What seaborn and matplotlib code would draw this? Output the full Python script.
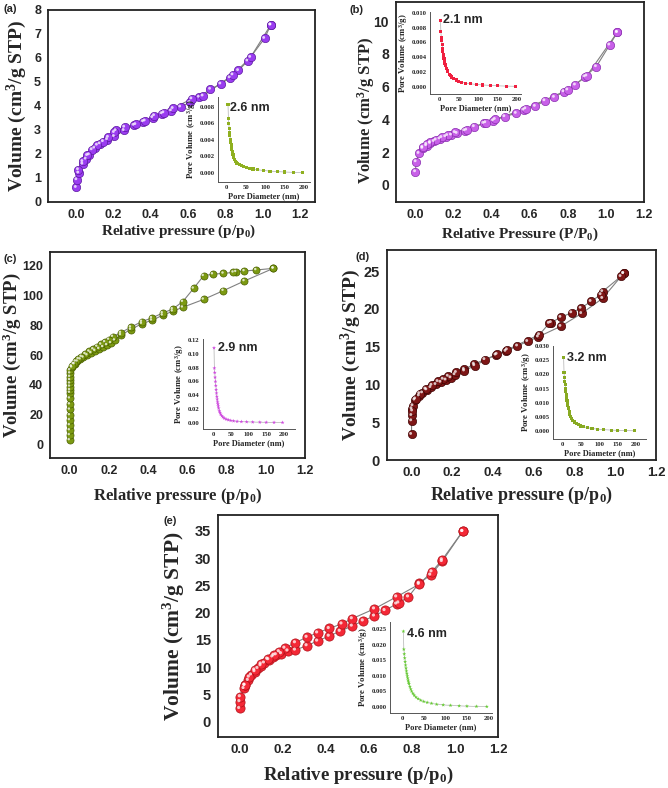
import numpy as np
import matplotlib
matplotlib.use("Agg")
import matplotlib.pyplot as plt
import seaborn as sns
from matplotlib.transforms import ScaledTranslation

sns.set_theme(style="white")
plt.rcParams['font.family'] = ['Liberation Sans', 'DejaVu Sans']
plt.rcParams['font.weight'] = 'bold'
plt.rcParams['mathtext.fontset'] = 'custom'
plt.rcParams['mathtext.rm'] = 'Liberation Serif:bold'
plt.rcParams['mathtext.bf'] = 'Liberation Serif:bold'
plt.rcParams['mathtext.it'] = 'Liberation Serif:bold'
plt.rcParams['mathtext.default'] = 'bf'

# ---------------- data ----------------
# (a)
a_ads_p = [0.001, 0.004, 0.014, 0.036, 0.054, 0.071, 0.10, 0.129, 0.168, 0.205, 0.257, 0.31, 0.36, 0.41,
           0.46, 0.51, 0.56, 0.61, 0.66, 0.72, 0.775, 0.825, 0.87, 0.92, 1.01, 1.043]
a_ads_v = [0.61, 0.93, 1.21, 1.58, 1.79, 1.97, 2.25, 2.43, 2.60, 2.73, 2.98, 3.20, 3.35, 3.52,
           3.68, 3.80, 3.96, 4.15, 4.37, 4.70, 4.92, 5.18, 5.48, 5.88, 6.82, 7.38]
a_des_p = [1.043, 0.935, 0.84, 0.68, 0.62, 0.52, 0.47, 0.42, 0.37, 0.32, 0.26, 0.214, 0.205, 0.173,
           0.146, 0.114, 0.086, 0.061, 0.036, 0.0125]
a_des_v = [7.38, 6.03, 5.30, 4.42, 4.30, 3.90, 3.72, 3.60, 3.38, 3.23, 3.12, 2.98, 2.90, 2.70,
           2.52, 2.37, 2.18, 1.94, 1.69, 1.35]
# (b)
b_ads_p = [0.002, 0.005, 0.02, 0.04, 0.06, 0.08, 0.10, 0.13, 0.16, 0.19, 0.22, 0.26, 0.31, 0.36,
           0.41, 0.47, 0.53, 0.57, 0.63, 0.68, 0.73, 0.78, 0.84, 0.89, 0.95, 1.02, 1.06]
b_ads_v = [0.81, 1.42, 1.93, 2.24, 2.40, 2.54, 2.66, 2.82, 2.95, 3.05, 3.15, 3.31, 3.56, 3.76,
           3.92, 4.17, 4.37, 4.57, 4.80, 5.14, 5.35, 5.69, 6.10, 6.60, 7.22, 8.54, 9.31]
b_des_p = [1.06, 0.90, 0.80, 0.58, 0.42, 0.37, 0.27, 0.21, 0.17, 0.14, 0.11, 0.08, 0.06, 0.04]
b_des_v = [9.31, 6.65, 5.80, 4.65, 4.00, 3.80, 3.35, 3.20, 3.02, 2.90, 2.75, 2.60, 2.48, 2.30]
# (c)
c_ads_p = [0.0001, 0.0002, 0.0003, 0.0004, 0.0005, 0.0006, 0.0007, 0.0008, 0.0009, 0.001, 0.0011,
           0.0012, 0.0013, 0.0014, 0.0016, 0.0018, 0.002, 0.012, 0.025, 0.04, 0.055, 0.07, 0.09, 0.11,
           0.13, 0.15, 0.17, 0.19, 0.21, 0.23, 0.261, 0.312, 0.368, 0.419, 0.474, 0.525, 0.577, 0.683,
           0.784, 0.891, 1.039]
c_ads_v = [2.9, 6.3, 9.6, 13.0, 16.4, 19.7, 23.5, 27.0, 31.0, 34.8, 36.6, 38.9, 41.0, 43.3, 45.5,
           47.8, 50.0, 51.8, 54.0, 55.8, 57.2, 58.5, 60.0, 61.5, 63.0, 64.3, 65.5, 66.8, 68.2, 70.0,
           73.6, 77.2, 81.2, 83.4, 86.8, 89.5, 92.2, 97.5, 103.4, 109.9, 118.4]
c_des_p = [1.039, 0.951, 0.891, 0.849, 0.835, 0.784, 0.73, 0.683, 0.632, 0.577, 0.525, 0.474, 0.419,
           0.368, 0.312, 0.261, 0.22, 0.20, 0.18, 0.16, 0.14, 0.12, 0.10, 0.08, 0.06, 0.045, 0.03,
           0.02, 0.01]
c_des_v = [118.4, 117.3, 116.6, 116.1, 115.7, 115.0, 114.5, 113.4, 104.9, 96.0, 91.0, 88.3, 85.0,
           82.6, 78.8, 75.1, 72.5, 70.5, 68.8, 67.2, 65.8, 64.0, 62.5, 60.8, 59.0, 57.5, 55.8,
           54.2, 52.5]
# (d)
d_ads_p = [0.0003, 0.0008, 0.0012, 0.002, 0.007, 0.016, 0.038, 0.054, 0.075, 0.095, 0.12, 0.144,
           0.169, 0.193, 0.213, 0.259, 0.308, 0.36, 0.414, 0.463, 0.52, 0.57, 0.622, 0.733, 0.835,
           0.938, 1.041]
d_ads_v = [3.4, 5.2, 5.9, 6.8, 7.2, 7.95, 8.5, 8.9, 9.3, 9.6, 10.0, 10.3, 10.6, 10.9, 11.3, 12.0,
           12.7, 13.3, 13.9, 14.4, 15.1, 15.7, 16.3, 17.7, 19.4, 21.4, 24.7]
d_des_p = [1.041, 1.028, 0.938, 0.93, 0.881, 0.832, 0.786, 0.733, 0.686, 0.676, 0.628, 0.47, 0.42,
           0.31, 0.26, 0.22, 0.18, 0.155, 0.13, 0.10, 0.07, 0.04, 0.02, 0.005]
d_des_v = [24.7, 24.3, 22.3, 21.9, 21.0, 20.1, 19.5, 18.9, 18.2, 18.1, 16.6, 14.6, 14.0, 12.5,
           11.8, 11.6, 11.1, 10.7, 10.4, 9.9, 9.4, 8.8, 8.1, 6.5]
# (e)
e_ads_p = [0.0, 0.001, 0.003, 0.02, 0.024, 0.04, 0.055, 0.071, 0.085, 0.099, 0.115, 0.135, 0.154,
           0.17, 0.194, 0.224, 0.259, 0.313, 0.362, 0.416, 0.467, 0.523, 0.574, 0.626, 0.675, 0.729,
           0.739, 0.784, 0.834, 0.887, 0.941, 1.036]
e_ads_v = [2.45, 3.7, 4.6, 6.1, 6.7, 7.6, 8.6, 9.2, 9.8, 10.3, 10.8, 11.4, 11.9, 12.3, 12.5, 13.0,
           13.15, 13.95, 14.8, 15.7, 16.6, 17.55, 18.5, 19.4, 20.4, 21.6, 21.8, 22.9, 25.4, 26.9,
           29.4, 34.9]
e_des_p = [1.036, 0.941, 0.893, 0.834, 0.729, 0.626, 0.523, 0.475, 0.416, 0.362, 0.313, 0.259,
           0.21, 0.184, 0.16, 0.13, 0.10, 0.07, 0.045, 0.025]
e_des_v = [34.9, 29.7, 27.5, 25.2, 22.9, 20.7, 18.9, 17.95, 17.1, 16.3, 15.5, 14.5, 13.5, 12.85,
           12.2, 11.5, 10.6, 9.5, 8.2, 6.7]

# pore size distributions (insets)
pore_d = [3, 4, 5, 6, 7, 8, 9, 10, 11, 12, 13, 14, 15, 16, 18, 20, 22, 25, 28, 32, 37, 43, 50, 58,
          68, 80, 95, 112, 132, 150, 172, 196]
a_psd = [0.0083, 0.0066, 0.0060, 0.0054, 0.0049, 0.0045, 0.0041, 0.0037, 0.0034, 0.0031, 0.0028,
         0.0026, 0.0024, 0.0022, 0.0019, 0.0016, 0.0014, 0.0012, 0.0011, 0.0010, 0.0009, 0.0008,
         0.0007, 0.00058, 0.00048, 0.00038, 0.0003, 0.00022, 0.00016, 0.00011, 0.00007, 0.00004]
b_psd = [0.0089, 0.0074, 0.0067, 0.0062, 0.0057, 0.0052, 0.0048, 0.0044, 0.0041, 0.0038, 0.0035,
         0.0032, 0.0030, 0.0028, 0.0025, 0.0022, 0.0020, 0.0017, 0.0015, 0.0013, 0.0011, 0.0009,
         0.00075, 0.0006, 0.00048, 0.00038, 0.0003, 0.00022, 0.00016, 0.00011, 0.00007, 0.00004]
c_psd = [0.109, 0.0795, 0.073, 0.066, 0.060, 0.054, 0.048, 0.043, 0.038, 0.034, 0.030, 0.027,
         0.024, 0.021, 0.017, 0.0146, 0.012, 0.0098, 0.008, 0.0063, 0.005, 0.004, 0.0031, 0.0024,
         0.0018, 0.0014, 0.0011, 0.0008, 0.0006, 0.0004, 0.00025, 0.00015]
d_psd = [0.0258, 0.0206, 0.0190, 0.0176, 0.0163, 0.0150, 0.0138, 0.0127, 0.0117, 0.0108, 0.0099,
         0.0091, 0.0084, 0.0078, 0.0068, 0.0059, 0.0052, 0.0044, 0.0038, 0.0032, 0.0027, 0.0022,
         0.0018, 0.0015, 0.0012, 0.0009, 0.0007, 0.0005, 0.00035, 0.00025, 0.00015, 0.0001]
e_psd = [0.0243, 0.0185, 0.0170, 0.0157, 0.0145, 0.0134, 0.0124, 0.0115, 0.0107, 0.0099, 0.0092,
         0.0085, 0.0079, 0.0074, 0.0065, 0.0057, 0.0050, 0.0043, 0.0037, 0.0031, 0.0026, 0.0021,
         0.0017, 0.0014, 0.0011, 0.0008, 0.0006, 0.00045, 0.0003, 0.0002, 0.00012, 0.00006]

labels = ["(a)", "(b)", "(c)", "(d)", "(e)"]
peak_labels = ["2.6 nm", "2.1 nm", "2.9 nm", "3.2 nm", "4.6 nm"]
x_tick_vals = [0.0, 0.2, 0.4, 0.6, 0.8, 1.0, 1.2]
x_tick_labels = ["0.0", "0.2", "0.4", "0.6", "0.8", "1.0", "1.2"]
inset_x_ticks = [0, 50, 100, 150, 200]

# ---------------- layout ----------------
W, H = 668, 788
fig = plt.figure(figsize=(W / 100, H / 100), dpi=100)


def rect(l, t, r, b):
    return [l / W, 1 - b / H, (r - l) / W, (b - t) / H]


panels = [
    dict(box=(48, 10, 315, 202), xlim=(-0.15, 1.28), ylim=(0, 8), yt=np.arange(0, 9, 1),
         ads=(a_ads_p, a_ads_v), des=(a_des_p, a_des_v), col='#9a3cf0', edge='#5d1aa0', ms=36,
         xlab=r'Relative pressure (p/p$_{0}$)', ylab='Volume (cm$^{3}$/g STP)',
         xfs=11, yfs=14, ylc=(-0.07, 0.5), xlc=(0.49, -0.109), lab=(3, 4), xts=9, yts=9,
         ins=(218, 97, 310, 182), ixlim=(-23, 216), iylim=(-0.0011, 0.0092),
         iyt=np.arange(0, 0.0081, 0.002), ifmt='%.3f', psd=a_psd, icol='#8fb020', imk='s',
         ann=(0.13, 0.87)),
    dict(box=(396, 2, 644, 202), xlim=(-0.1, 1.2), ylim=(-1.04, 11.16), yt=np.arange(0, 11, 2),
         ads=(b_ads_p, b_ads_v), des=(b_des_p, b_des_v), col='#c860e8', edge='#8a2fb0', ms=36,
         xlab=r'Relative Pressure (P/P$_{0}$)', ylab='Volume (cm$^{3}$/g STP)',
         xfs=11, yfs=12, ylc=(-0.075, 0.46), xlc=(0.5, -0.12), lab=(350, 5), xts=9, yts=10,
         ins=(430, 12, 521, 94), ixlim=(-24, 210), iylim=(-0.001, 0.0101),
         iyt=np.arange(0, 0.0101, 0.002), ifmt='%.3f', psd=b_psd, icol='#f02040', imk='s',
         ann=(0.14, 0.9)),
    dict(box=(50, 252, 305, 458), xlim=(-0.1, 1.2), ylim=(-9.2, 129.4), yt=np.arange(0, 121, 20),
         ads=(c_ads_p, c_ads_v), des=(c_des_p, c_des_v), col='#7c9a12', edge='#4a6000', ms=26,
         xlab=r'Relative pressure (p/p$_{0}$)', ylab='Volume (cm$^{3}$/g STP)',
         xfs=12, yfs=13.5, ylc=(-0.104, 0.5), xlc=(0.5, -0.136), lab=(3, 254), xts=9, yts=9,
         ins=(203, 339, 295, 429), ixlim=(-28, 231), iylim=(-0.0093, 0.122),
         iyt=np.arange(0, 0.121, 0.02), ifmt='%.2f', psd=c_psd, icol='#d048e0', imk='*',
         ann=(0.16, 0.9)),
    dict(box=(387, 250, 656, 460), xlim=(-0.12, 1.2), ylim=(0, 27.8), yt=np.arange(0, 26, 5),
         ads=(d_ads_p, d_ads_v), des=(d_des_p, d_des_v), col='#7e1616', edge='#400505', ms=36,
         xlab=r'Relative pressure (p/p$_{0}$)', ylab='Volume (cm$^{3}$/g STP)',
         xfs=13, yfs=14, ylc=(-0.09, 0.5), xlc=(0.5, -0.119), lab=(355, 252), xts=9.5, yts=10.5,
         ins=(553, 346, 646, 439), ixlim=(-26, 227), iylim=(-0.0028, 0.030),
         iyt=np.arange(0, 0.0301, 0.005), ifmt='%.3f', psd=d_psd, icol='#88aa22', imk='s',
         ann=(0.15, 0.87)),
    dict(box=(218, 515, 498, 737), xlim=(-0.1, 1.2), ylim=(-2.8, 37.9), yt=np.arange(0, 36, 5),
         ads=(e_ads_p, e_ads_v), des=(e_des_p, e_des_v), col='#f42836', edge='#b01018', ms=44,
         xlab=r'Relative pressure (p/p$_{0}$)', ylab='Volume (cm$^{3}$/g STP)',
         xfs=13.5, yfs=15.5, ylc=(-0.11, 0.5), xlc=(0.5, -0.126), lab=(163, 516), xts=9.5, yts=10.5,
         ins=(390, 622, 492, 713), ixlim=(-28, 208), iylim=(-0.002, 0.0273),
         iyt=np.arange(0, 0.0251, 0.005), ifmt='%.3f', psd=e_psd, icol='#66cc33', imk='*',
         ann=(0.17, 0.87)),
]

serif = ['Liberation Serif', 'DejaVu Serif']

for i, P in enumerate(panels):
    ax = fig.add_axes(rect(*P['box']))
    ax.set_facecolor('white')
    for (px, py) in (P['ads'], P['des']):
        sns.lineplot(x=px, y=py, sort=False, estimator=None, color='#808080', lw=0.8, ax=ax,
                     zorder=2)
    for (px, py) in (P['ads'], P['des']):
        sns.scatterplot(x=px, y=py, color=P['col'], edgecolor=P['edge'], linewidth=0.5,
                        s=P['ms'], ax=ax, zorder=3)
        hl = ax.transData + ScaledTranslation(-0.9 / 100, 0.9 / 100, fig.dpi_scale_trans)
        sns.scatterplot(x=px, y=py, color='white', edgecolor='none', alpha=0.75,
                        s=P['ms'] * 0.12, ax=ax, zorder=4, transform=hl)
    ax.set_xlim(*P['xlim'])
    ax.set_ylim(*P['ylim'])
    ax.set_xticks(x_tick_vals)
    ax.set_xticklabels(x_tick_labels)
    ax.set_yticks(P['yt'])
    ax.set_yticklabels([f'{v:g}' for v in P['yt']])
    for s in ax.spines.values():
        s.set_color('#222222')
        s.set_linewidth(1.3)
    ax.tick_params(axis='both', direction='out', length=3, width=1.0, color='#222222', pad=2)
    ax.tick_params(axis='x', labelsize=P['xts'])
    ax.tick_params(axis='y', labelsize=P['yts'])
    for t in ax.get_xticklabels() + ax.get_yticklabels():
        t.set_fontweight('bold')
        t.set_family(['Liberation Sans', 'DejaVu Sans'])
    ax.set_xlabel(P['xlab'], fontsize=P['xfs'], fontweight='bold', family=serif)
    ax.set_ylabel(P['ylab'], fontsize=P['yfs'], fontweight='bold', family=serif)
    ax.yaxis.set_label_coords(*P['ylc'])
    ax.xaxis.set_label_coords(*P['xlc'])
    ax.grid(False)
    fig.text(P['lab'][0] / W, 1 - P['lab'][1] / H, labels[i], fontsize=8, fontweight='bold',
             va='top', ha='left')

    # inset
    ia = fig.add_axes(rect(*P['ins']))
    ia.patch.set_alpha(0)
    sns.lineplot(x=pore_d, y=P['psd'], sort=False, estimator=None, color='#b0b0b0', lw=0.5,
                 ax=ia, zorder=2)
    sns.scatterplot(x=pore_d, y=P['psd'], color=P['icol'], marker=P['imk'],
                    s=5 if P['imk'] == 's' else 9, edgecolor='none', ax=ia, zorder=3)
    ia.set_xlim(*P['ixlim'])
    ia.set_ylim(*P['iylim'])
    ia.set_xticks(inset_x_ticks)
    ia.set_xticklabels([str(v) for v in inset_x_ticks])
    ia.set_yticks(P['iyt'])
    ia.set_yticklabels([P['ifmt'] % v for v in P['iyt']])
    for k in ('top', 'right'):
        ia.spines[k].set_visible(False)
    for k in ('left', 'bottom'):
        ia.spines[k].set_color('#555555')
        ia.spines[k].set_linewidth(0.7)
    ia.tick_params(axis='both', direction='out', length=1.5, width=0.5, color='#555555',
                   labelsize=4.8, pad=1)
    for t in ia.get_xticklabels() + ia.get_yticklabels():
        t.set_fontweight('bold')
        t.set_family(serif)
    ia.set_xlabel('Pore Diameter (nm)', fontsize=6, fontweight='bold', family=serif, labelpad=1)
    ia.set_ylabel('Pore Volume (cm$^{3}$/g)', fontsize=6.3, fontweight='bold', family=serif,
                  labelpad=1)
    ia.grid(False)
    ia.text(P['ann'][0], P['ann'][1], peak_labels[i], transform=ia.transAxes, fontsize=9,
            fontweight='bold', va='center', ha='left')

fig.savefig('out.png', dpi=100, facecolor='white')
